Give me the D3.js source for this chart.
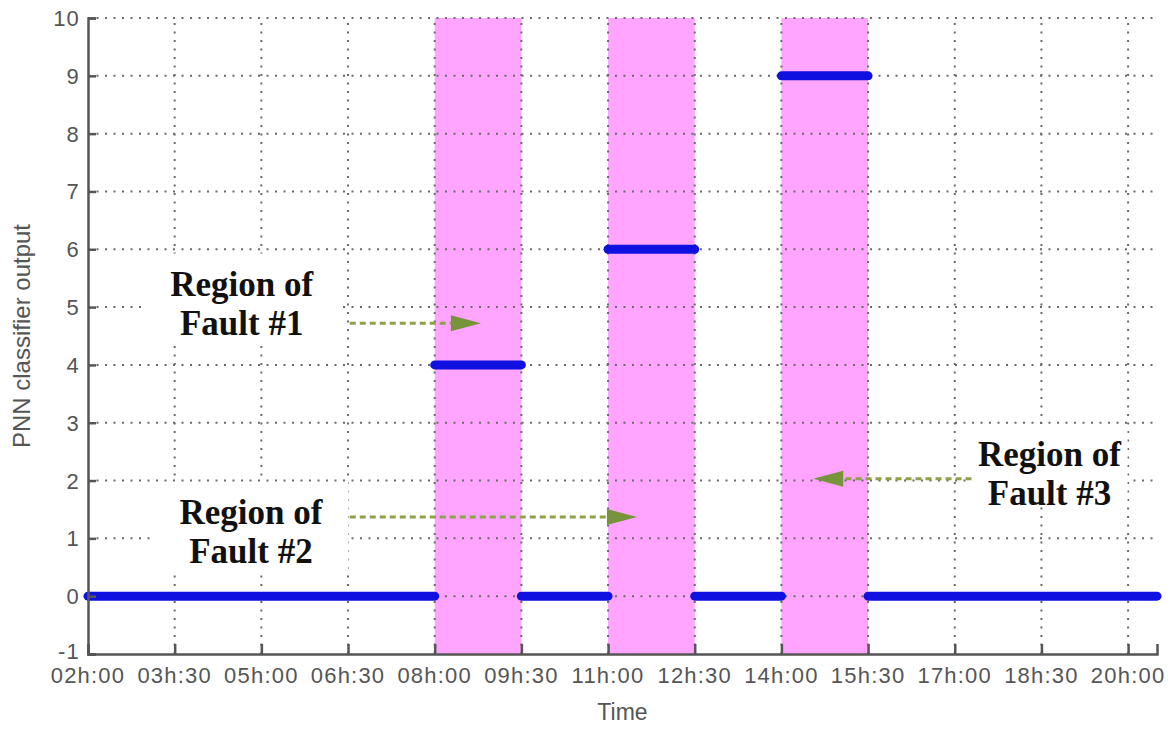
<!DOCTYPE html>
<html>
<head>
<meta charset="utf-8">
<script src="https://cdn.jsdelivr.net/npm/d3@7"></script>
<style>
  body { margin: 0; background: #fff; }
  svg { display: block; }
</style>
</head>
<body>
<script>
// hours of day for x, classifier class for y
const tickHours = [2, 3.5, 5, 6.5, 8, 9.5, 11, 12.5, 14, 15.5, 17, 18.5, 20];
const tickLabels = ["02h:00", "03h:30", "05h:00", "06h:30", "08h:00", "09h:30", "11h:00", "12h:30", "14h:00", "15h:30", "17h:00", "18h:30", "20h:00"];
const yTicks = [-1, 0, 1, 2, 3, 4, 5, 6, 7, 8, 9, 10];

// fault regions (start hour, end hour)
const faultStart = [8, 11, 14];
const faultEnd = [9.5, 12.5, 15.5];

// classifier output segments
const segStart = [2, 8, 9.5, 11, 12.5, 14, 15.5];
const segEnd = [8, 9.5, 11, 12.5, 14, 15.5, 20.5];
const segValue = [0, 4, 0, 6, 0, 9, 0];

// annotations : arrow from / to (hours, class), label centre
const arrowX1 = [6.53, 6.53, 17.29];
const arrowX2 = [8.8, 11.5, 14.55];
const arrowY = [4.72, 1.37, 2.03];
const labelNames = ["Fault #1", "Fault #2", "Fault #3"];
const labelX = [4.66, 4.82, 18.64];
const labelY = [5.2, 1.25, 2.25];

const W = 1175, H = 729;
const margin = { top: 18, right: 18, bottom: 75, left: 88 };

const svg = d3.select("body").append("svg")
    .attr("width", W).attr("height", H);

svg.append("rect").attr("width", W).attr("height", H).attr("fill", "#fff");

const x = d3.scaleLinear()
    .domain([2, 20.5])
    .range([margin.left, W - margin.right]);

const y = d3.scaleLinear()
    .domain([-1, 10])
    .range([H - margin.bottom, margin.top]);

const grey = "#555";
const tickFont = "Liberation Sans, Arial, sans-serif";

// pink fault bands
svg.selectAll(".band").data(faultStart).enter().append("rect")
    .attr("x", d => x(d))
    .attr("width", (d, i) => x(faultEnd[i]) - x(d))
    .attr("y", y(10))
    .attr("height", y(-1) - y(10))
    .attr("fill", "#ffa4ff");

// dotted grid
svg.append("g").selectAll("line").data(tickHours.slice(1)).enter().append("line")
    .attr("x1", d => x(d)).attr("x2", d => x(d))
    .attr("y1", y(-1)).attr("y2", y(10))
    .attr("stroke", "#6a6a6a").attr("stroke-width", 2)
    .attr("stroke-dasharray", "2,6.5");

svg.append("g").selectAll("line").data(yTicks.slice(1)).enter().append("line")
    .attr("x1", x(2)).attr("x2", x(20.5))
    .attr("y1", d => y(d)).attr("y2", d => y(d))
    .attr("stroke", "#6a6a6a").attr("stroke-width", 2)
    .attr("stroke-dasharray", "2,6.5");

// white boxes behind the labels
const boxW = [200, 195, 156], boxH = [88, 90, 82];
svg.selectAll(".box").data(labelX).enter().append("rect")
    .attr("x", (d, i) => x(d) - boxW[i] / 2)
    .attr("y", (d, i) => y(labelY[i]) - 42)
    .attr("width", (d, i) => boxW[i])
    .attr("height", (d, i) => boxH[i])
    .attr("fill", "#fff");

// arrows
const olive = "#77933c";
svg.selectAll(".arrowline").data(arrowY).enter().append("line")
    .attr("x1", (d, i) => x(arrowX1[i]))
    .attr("x2", (d, i) => x(arrowX2[i]) + (arrowX2[i] > arrowX1[i] ? -26 : 26))
    .attr("y1", d => y(d)).attr("y2", d => y(d))
    .attr("stroke", "#8fa04a").attr("stroke-width", 3)
    .attr("stroke-dasharray", "6,4");

svg.selectAll(".arrowhead").data(arrowY).enter().append("path")
    .attr("d", (d, i) => {
        const tx = x(arrowX2[i]), ty = y(d);
        const dir = arrowX2[i] > arrowX1[i] ? 1 : -1;
        return `M${tx},${ty} L${tx - dir * 30},${ty - 8} L${tx - dir * 30},${ty + 8} Z`;
    })
    .attr("fill", olive);

// classifier output
svg.selectAll(".seg").data(segValue).enter().append("line")
    .attr("x1", (d, i) => x(segStart[i]))
    .attr("x2", (d, i) => x(segEnd[i]))
    .attr("y1", d => y(d)).attr("y2", d => y(d))
    .attr("stroke", "#1010e0").attr("stroke-width", 9)
    .attr("stroke-linecap", "round");

// axes
const xAxis = svg.append("g")
    .attr("transform", `translate(0,${y(-1)})`)
    .call(d3.axisTop(x).tickValues(tickHours).tickSize(10).tickFormat(""));
const yAxis = svg.append("g")
    .attr("transform", `translate(${x(2)},0)`)
    .call(d3.axisRight(y).tickValues(yTicks).tickSize(8).tickFormat(""));

[xAxis, yAxis].forEach(g => {
    g.select(".domain").attr("stroke", grey).attr("stroke-width", 2.5);
    g.selectAll(".tick line").attr("stroke", grey).attr("stroke-width", 2.5);
});

// tick labels
svg.append("g").selectAll("text").data(tickLabels).enter().append("text")
    .attr("x", (d, i) => x(tickHours[i]))
    .attr("y", y(-1) + 29)
    .attr("text-anchor", "middle")
    .attr("font-family", tickFont).attr("font-size", 22)
    .attr("letter-spacing", 1.2)
    .attr("fill", grey)
    .text(d => d);

svg.append("g").selectAll("text").data(yTicks).enter().append("text")
    .attr("x", x(2) - 8)
    .attr("y", d => y(d) + (d === -1 ? 5 : 8))
    .attr("text-anchor", "end")
    .attr("font-family", tickFont).attr("font-size", 22)
    .attr("letter-spacing", 1.2)
    .attr("fill", grey)
    .text(d => d);

svg.append("text")
    .attr("x", (x(2) + x(20.5)) / 2)
    .attr("y", 720)
    .attr("text-anchor", "middle")
    .attr("font-family", tickFont).attr("font-size", 23)
    .attr("fill", grey)
    .text("Time");

svg.append("text")
    .attr("transform", `translate(30,${(y(-1) + y(10)) / 2}) rotate(-90)`)
    .attr("text-anchor", "middle")
    .attr("font-family", tickFont).attr("font-size", 24)
    .attr("fill", grey)
    .text("PNN classifier output");

// annotation labels
const lab = svg.append("g").selectAll("text").data(labelNames).enter().append("text")
    .attr("x", (d, i) => x(labelX[i]))
    .attr("y", (d, i) => y(labelY[i]))
    .attr("text-anchor", "middle")
    .attr("font-family", "Liberation Serif, Times New Roman, serif")
    .attr("font-weight", "bold").attr("font-size", 35)
    .attr("fill", "#111");
lab.append("tspan").attr("x", (d, i) => x(labelX[i])).text("Region of");
lab.append("tspan").attr("x", (d, i) => x(labelX[i])).attr("dy", 39).text(d => d);
</script>
</body>
</html>
